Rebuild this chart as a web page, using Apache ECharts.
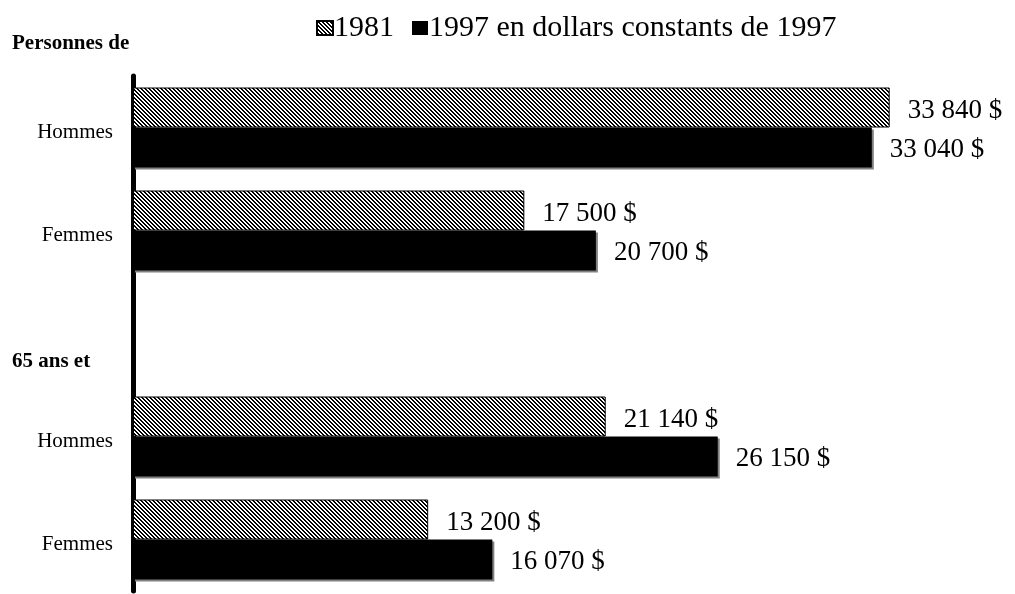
<!DOCTYPE html>
<html>
<head>
<meta charset="utf-8">
<script src="https://cdn.jsdelivr.net/npm/echarts@6/dist/echarts.min.js"></script>
<style>
  html, body { margin: 0; padding: 0; background: #fff; }
  #chart { width: 1015px; height: 594px; }
</style>
</head>
<body>
<div id="chart"></div>
<script>
var categories = ['Hommes', 'Femmes', '', 'Hommes', 'Femmes'];
var values_1981 = [33840, 17500, null, 21140, 13200];
var values_1997 = [33040, 20700, null, 26150, 16070];
var series_names = ['1981', '1997 en dollars constants de 1997'];
var group_titles = ['Personnes de', '65 ans et'];

var dom_chart = document.getElementById("chart");
var chart = echarts.init(dom_chart);

// diagonal hatch for 1981
function make_hatch(){
    var c = document.createElement('canvas');
    c.width = 4; c.height = 4;
    var ctx = c.getContext('2d');
    ctx.fillStyle = '#fff';
    ctx.fillRect(0, 0, 4, 4);
    ctx.fillStyle = '#000';
    for (var y = 0; y < 4; y++) {
        for (var x = 0; x < 4; x++) {
            if ((((x - y) % 4) + 4) % 4 < 2) ctx.fillRect(x, y, 1, 1);
        }
    }
    return c;
}

function fmt(p){
    var s = String(p.value);
    return s.replace(/\B(?=(\d{3})+(?!\d))/g, ' ') + ' $';
}

var font = "'Liberation Serif', 'Times New Roman', serif";

option = {
    animation: false,
    legend: {
        left: 311, top: 8,
        icon: 'rect',
        itemWidth: 16, itemHeight: 14, itemGap: 18,
        textStyle: {fontFamily: font, fontSize: 30, color: '#000', padding: [0, 0, 0, -4]},
        data: series_names
    },
    grid: {left: 133, top: 76, right: 77, height: 515},
    xAxis: {
        type: 'value', min: 0, max: 36000,
        show: false
    },
    yAxis: {
        type: 'category', inverse: true, data: categories,
        axisLine: {lineStyle: {color: '#000', width: 5}},
        axisTick: {show: false},
        axisLabel: {
            margin: 20,
            formatter: function (v) { return '{a|' + v + '}'; },
            rich: {a: {fontFamily: font, fontSize: 21, color: '#000', padding: [9, 0, 0, 0]}}
        }
    },
    graphic: [
        {type: 'text', left: 12, top: 33, style: {text: group_titles[0], font: "bold 21px " + font, fill: '#000'}},
        {type: 'text', left: 12, top: 351, style: {text: group_titles[1], font: "bold 21px " + font, fill: '#000'}}
    ],
    series: [{
        name: series_names[0],
        type: 'bar',
        barWidth: 40,
        barGap: '0%',
        data: values_1981,
        itemStyle: {color: {image: make_hatch(), repeat: 'repeat'}, borderColor: '#000', borderWidth: 1},
        label: {show: true, position: 'right', distance: 18, formatter: fmt, offset: [0, 3],
            fontFamily: font, fontSize: 27, color: '#000'}
    }, {
        name: series_names[1],
        type: 'bar',
        barWidth: 40,
        data: values_1997,
        itemStyle: {color: '#000', shadowColor: '#808080', shadowOffsetX: 2, shadowOffsetY: 2, shadowBlur: 0},
        label: {show: true, position: 'right', distance: 18, formatter: fmt, offset: [0, 2],
            fontFamily: font, fontSize: 27, color: '#000'}
    }]
};

chart.setOption(option);
</script>
</body>
</html>
